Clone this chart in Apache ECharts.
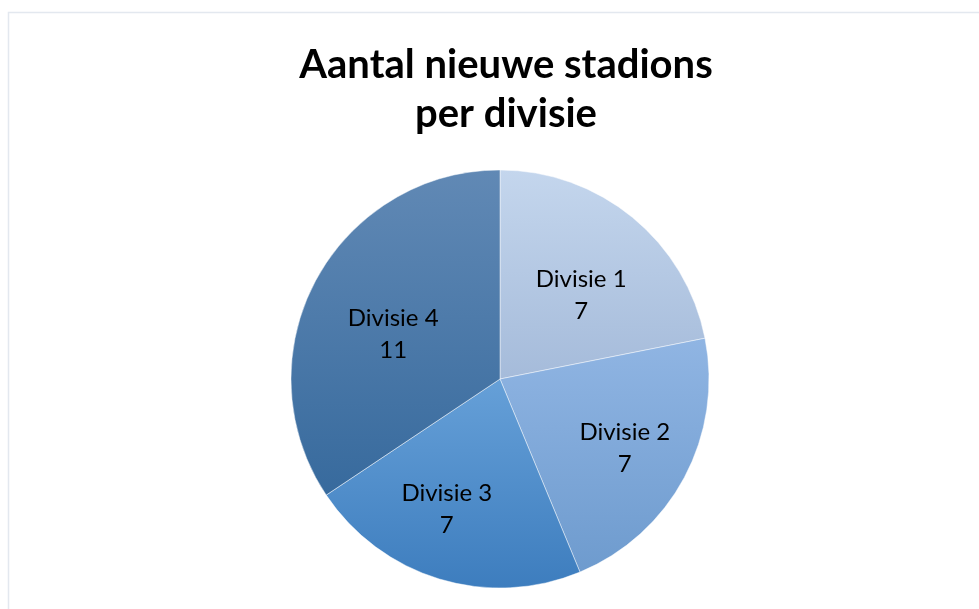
<!DOCTYPE html>
<html>
<head>
<meta charset="utf-8">
<script src="https://cdn.jsdelivr.net/npm/echarts@6/dist/echarts.min.js"></script>
<style>
html,body{margin:0;padding:0;background:#fff;}
#chart{width:979px;height:609px;}
</style>
</head>
<body>
<div id="chart"></div>
<script>
var categories = ['Divisie 1', 'Divisie 2', 'Divisie 3', 'Divisie 4'];
var values = [7, 7, 7, 11];
var titleText = 'Aantal nieuwe stadions\nper divisie';

var gradientStops = [
  ['#c4d6ed', '#a5bbda'],
  ['#90b5e3', '#6e9bce'],
  ['#66a0d8', '#3d7dbe'],
  ['#6189b5', '#376a9d']
];
var labelOffsets = [[13, -1], [30, 19], [-22, 27], [-12, 6]];

var chart = echarts.init(document.getElementById('chart'));
var data = categories.map(function (c, i) {
  return {
    name: c,
    value: values[i],
    itemStyle: {
      color: new echarts.graphic.LinearGradient(0, 0, 0, 1, [
        {offset: 0, color: gradientStops[i][0]},
        {offset: 1, color: gradientStops[i][1]}
      ])
    },
    label: {offset: labelOffsets[i]}
  };
});

chart.setOption({
  animation: false,
  graphic: [{
    type: 'rect',
    shape: {x: 8.5, y: 12.5, width: 1000, height: 700},
    style: {fill: 'none', stroke: '#e3e8ef', lineWidth: 1.5},
    silent: true
  }],
  title: {
    text: titleText,
    left: 501,
    textAlign: 'center',
    top: 36,
    textStyle: {
      fontFamily: 'Lato',
      fontWeight: 'bold',
      fontSize: 40,
      lineHeight: 49,
      color: '#000'
    }
  },
  series: [{
    type: 'pie',
    center: [500, 379],
    radius: [0, 209],
    startAngle: 90,
    clockwise: true,
    data: data,
    itemStyle: {borderColor: 'rgba(255,255,255,0.45)', borderWidth: 1},
    label: {
      show: true,
      position: 'inside',
      formatter: '{b}\n{c}',
      fontFamily: 'Lato',
      fontSize: 24,
      lineHeight: 32,
      color: '#000'
    },
    labelLine: {show: false},
    emphasis: {disabled: true}
  }]
});
</script>
</body>
</html>
